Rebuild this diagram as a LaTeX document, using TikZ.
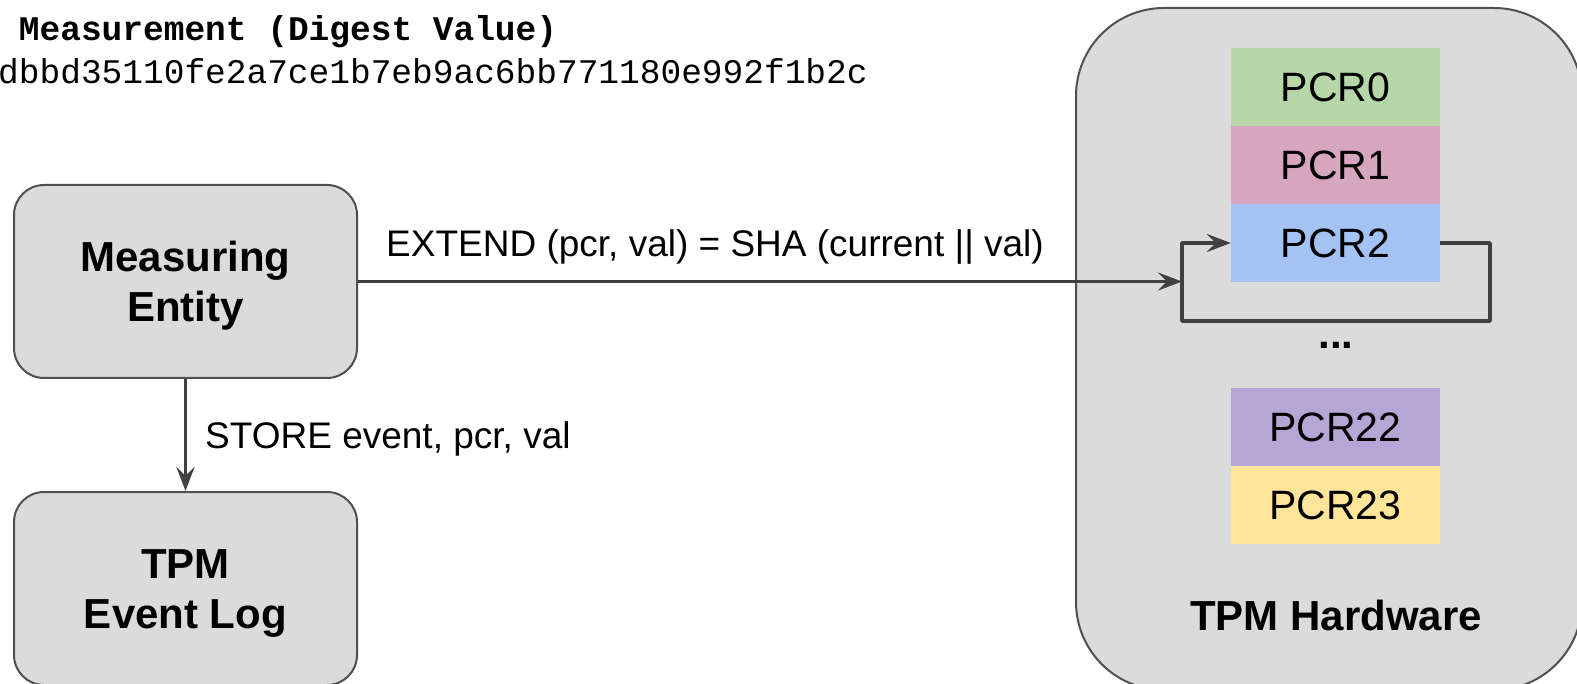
\documentclass[tikz,border=0pt]{standalone}
\usepackage{fontspec}
\setmainfont{Liberation Sans}
\newfontfamily\monofam{Liberation Mono}
\usetikzlibrary{arrows.meta}
\definecolor{boxgray}{HTML}{DBDBDB}
\definecolor{edgegray}{HTML}{505050}
\definecolor{conngray}{HTML}{404040}
\definecolor{pcrA}{HTML}{B6D7A8}
\definecolor{pcrB}{HTML}{D5A6BD}
\definecolor{pcrC}{HTML}{A4C2F4}
\definecolor{pcrD}{HTML}{B4A7D6}
\definecolor{pcrE}{HTML}{FFE599}
\begin{document}
\begin{tikzpicture}[x=1pt,y=-1pt,
  entity/.style={draw=edgegray, line width=2pt, fill=boxgray, rounded corners=30pt,
    minimum width=343pt, minimum height=193pt, inner sep=0pt,
    font=\fontsize{42}{50}\selectfont\bfseries, align=center,
    text height=80pt, text depth=0pt},
  pcrbox/.style={minimum width=209pt, minimum height=78pt, inner sep=0pt,
    font=\fontsize{41}{49}\selectfont, text height=29.4pt, text depth=0pt},
  wire/.style={draw=conngray, line width=3.5pt, line join=round},
  arrowtip/.style={-{Stealth[length=24pt,width=18pt,inset=9pt]}},
  lbl/.style={anchor=base west, inner sep=0pt, font=\fontsize{37}{44}\selectfont},
  monotxt/.style={anchor=base west, inner sep=0pt, font=\monofam\fontsize{34.5}{40}\selectfont}
]
\useasboundingbox (0,0) rectangle (1577,684);
\clip (0,0) rectangle (1577,684);

% TPM hardware container
\node[draw=edgegray, line width=2pt, fill=boxgray, rounded corners=88pt,
  minimum width=506pt, minimum height=682pt, inner sep=0pt] (tpm) at (1329,349) {};
\node[anchor=base, inner sep=0pt, font=\fontsize{42}{50}\selectfont\bfseries] (tpmlbl) at (1336,630) {TPM Hardware};

% PCR registers
\node[pcrbox, fill=pcrA] (pcr0) at (1335.5,87) {PCR0};
\node[pcrbox, fill=pcrB] (pcr1) at (1335.5,165) {PCR1};
\node[pcrbox, fill=pcrC] (pcr2) at (1335.5,243) {PCR2};
\node[anchor=base, inner sep=0pt, font=\fontsize{42}{50}\selectfont\bfseries] (dots) at (1336,349) {...};
\node[pcrbox, fill=pcrD] (pcr22) at (1335.5,427) {PCR22};
\node[pcrbox, fill=pcrE] (pcr23) at (1335.5,505) {PCR23};

% left boxes
\node[entity] (me) at (185.5,281.5) {Measuring\\Entity};
\node[entity] (log) at (185.5,588.5) {TPM\\Event Log};

% top texts
\node[monotxt] (mtitle) at (-2,41) {\bfseries\hspace*{0.6em}Measurement (Digest Value)};
\node[monotxt] (mhash) at (-2,83.5) {dbbd35110fe2a7ce1b7eb9ac6bb771180e992f1b2c};

% loop around PCR2
\coordinate (lr) at (1490,321);
\coordinate (ll) at (1182,321);
\draw[wire, arrowtip] (pcr2.east) -| (lr) -- (ll) |- (pcr2.west);

% connectors
\draw[wire, arrowtip] (me.east) -- (me.east -| ll);
\draw[wire, arrowtip] (me.south) -- (log.north);

% labels
\node[lbl] (extlbl) at (386,256.5) {EXTEND (pcr, val) = SHA (current || val)};
\node[lbl] (storelbl) at (205,448.5) {STORE event, pcr, val};
\end{tikzpicture}
\end{document}
